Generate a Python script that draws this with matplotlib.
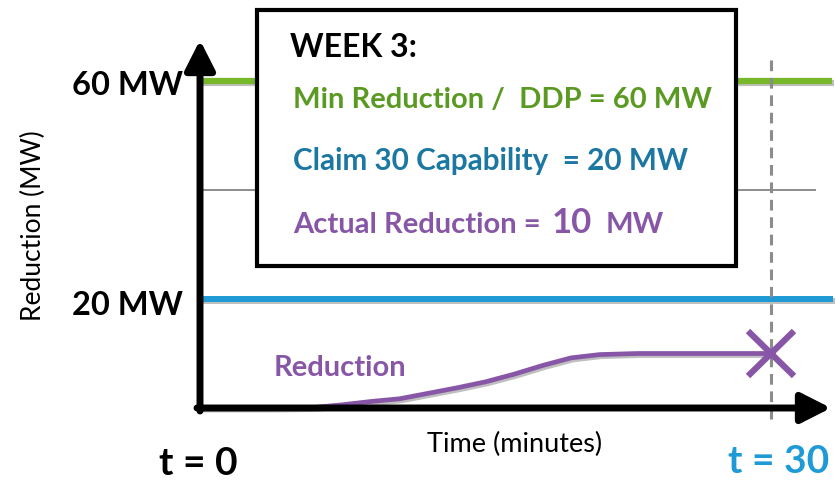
import matplotlib

matplotlib.use("Agg")
import matplotlib.pyplot as plt
import matplotlib.patheffects as pe
from matplotlib.patches import Rectangle

plt.rcParams["font.family"] = ["Lato", "DejaVu Sans"]

# levels (MW) and the reduction ramp over the 30-minute window
ddp_mw = 60
claim_mw = 20
mid_mw = 40
actual_mw = 10
deadline_min = 30
time_min = [0, 2, 4, 6, 7.5, 9, 10.5, 12, 13.5, 15, 16.5, 18, 19.5, 21, 23, 30]
reduction_mw = [0, 0, 0, 0.1, 0.6, 1.2, 1.7, 2.7, 3.7, 4.8, 6.2, 7.8, 9.2, 9.8, 10, 10]

GREEN = "#76b82a"
GREEN_TXT = "#5b9a22"
BLUE = "#1e9ad6"
BLUE_TXT = "#1c78a3"
PURPLE = "#8856a7"
GREY = "#8c8c8c"

W, H = 836, 480
ORIGIN = (200, 408)
PX_PER_MIN = (771 - ORIGIN[0]) / deadline_min
PX_PER_MW = (ORIGIN[1] - 81) / ddp_mw

fig = plt.figure(figsize=(W / 100, H / 100), dpi=100)
ax = fig.add_axes([0, 0, 1, 1])
ax.set_xlim(-ORIGIN[0] / PX_PER_MIN, (W - ORIGIN[0]) / PX_PER_MIN)
ax.set_ylim(-(H - ORIGIN[1]) / PX_PER_MW, ORIGIN[1] / PX_PER_MW)
ax.axis("off")


def px_x(p):
    return (p - ORIGIN[0]) / PX_PER_MIN


def px_y(p):
    return (ORIGIN[1] - p) / PX_PER_MW


def ftext(x, y, s, **kw):
    fig.text(x / W, 1 - y / H, s, **kw)


shadow = [pe.SimpleLineShadow(offset=(1.5, -1.5), shadow_color="k", alpha=0.25), pe.Normal()]

# horizontal reference levels
ax.plot([0, px_x(832)], [ddp_mw, ddp_mw], color=GREEN, lw=4.5, solid_capstyle="butt",
        path_effects=shadow, zorder=2)
ax.plot([0, px_x(833)], [claim_mw, claim_mw], color=BLUE, lw=4.3, solid_capstyle="butt",
        path_effects=shadow, zorder=2)
ax.plot([0, px_x(815)], [mid_mw, mid_mw], color=GREY, lw=1.4, zorder=1)

# deadline marker
ax.plot([deadline_min, deadline_min], [px_y(60), px_y(425)], color=GREY, lw=2.2,
        ls=(0, (3.5, 2.2)), zorder=3)

# reduction curve and the value reached at t = 30
ax.plot(time_min, reduction_mw, color=PURPLE, lw=3.4, solid_capstyle="round",
        path_effects=shadow, zorder=4)
ax.plot([deadline_min], [actual_mw], marker="x", ms=33, mew=4.5, color=PURPLE, zorder=5,
        path_effects=[pe.SimplePatchShadow(offset=(1.5, -1.5), alpha=0.25), pe.Normal()])

# axes arrows
arrow = dict(arrowstyle="-|>,head_length=0.75,head_width=0.38", color="k", lw=5,
             mutation_scale=24, shrinkA=0, shrinkB=0)
ax.annotate("", xy=(0, px_y(40)), xytext=(0, px_y(411)), arrowprops=arrow, zorder=6)
ax.annotate("", xy=(px_x(831), 0), xytext=(px_x(197), 0), arrowprops=arrow, zorder=6)

# info box
box_x0, box_x1 = px_x(257), px_x(736)
box_y0, box_y1 = px_y(266), px_y(10)
ax.add_patch(Rectangle((box_x0, box_y0), box_x1 - box_x0, box_y1 - box_y0, facecolor="white",
                       edgecolor="k", lw=3, zorder=3, clip_on=False))

ftext(290, 57, "WEEK 3:", fontsize=23, fontweight="bold", color="k", va="baseline")
ftext(293, 108, "Min Reduction /  DDP = 60 MW", fontsize=21, fontweight="bold",
      color=GREEN_TXT, va="baseline")
ftext(293, 170, "Claim 30 Capability  = 20 MW", fontsize=21.3, fontweight="bold",
      color=BLUE_TXT, va="baseline")
ftext(293, 233, "Actual Reduction =", fontsize=21, fontweight="bold", color=PURPLE,
      va="baseline")
ftext(552, 233, "10", fontsize=25, fontweight="bold", color=PURPLE, va="baseline")
ftext(606, 233, "MW", fontsize=21, fontweight="bold", color=PURPLE, va="baseline")

# axis annotations
ftext(183, 95, "60 MW", fontsize=23.5, fontweight="bold", ha="right", va="baseline")
ftext(183, 315, "20 MW", fontsize=23.5, fontweight="bold", ha="right", va="baseline")
ftext(198, 475, "t = 0", fontsize=28, fontweight="bold", ha="center", va="baseline")
ftext(779, 473, "t = 30", fontsize=28, fontweight="bold", color=BLUE, ha="center",
      va="baseline")
ftext(515, 452, "Time (minutes)", fontsize=19.5, ha="center", va="baseline")
ftext(33, 226, "Reduction (MW)", fontsize=19, rotation=90, ha="center", va="center")
ftext(340, 376, "Reduction", fontsize=21, fontweight="bold", color=PURPLE, ha="center",
      va="baseline")

fig.savefig("out.png", dpi=100)
